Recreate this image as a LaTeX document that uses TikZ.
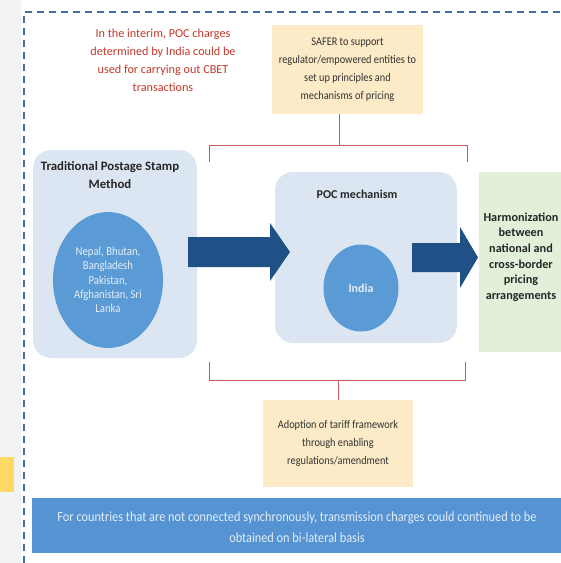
\documentclass[tikz,border=0pt]{standalone}
\usepackage{fontspec}
\setmainfont{Carlito}
\newfontfamily\narrowfont[FakeStretch=0.88]{Carlito}
\usetikzlibrary{shapes.geometric,calc}
\definecolor{frameblue}{HTML}{41719C}
\definecolor{paleblue}{HTML}{DCE6F2}
\definecolor{midblue}{HTML}{5B9BD5}
\definecolor{darkblue}{HTML}{1F5186}
\definecolor{palegreen}{HTML}{E2EFD9}
\definecolor{paleyellow}{HTML}{FCEBC6}
\definecolor{barblue}{HTML}{5593D3}
\definecolor{redtext}{HTML}{C0392B}
\definecolor{bracketred}{HTML}{C55A5A}
\definecolor{sidegray}{HTML}{F2F3F5}
\definecolor{sideyellow}{HTML}{FFD966}
\definecolor{lighttext}{HTML}{E4EEF8}
\begin{document}
\begin{tikzpicture}[x=1pt,y=-1pt,
  panel/.style={draw=none,fill=paleblue,rounded corners=18pt,inner sep=0pt},
  note/.style={draw=none,fill=paleyellow,inner sep=0pt,align=center,font=\narrowfont\fontsize{11.7}{18}\selectfont,text=black!80},
  blob/.style={ellipse,draw=none,fill=midblue,inner sep=0pt},
  blockarrow/.style={fill=darkblue,draw=none},
  title/.style={align=center,font=\bfseries\fontsize{12.8}{18}\selectfont,text=black!85},
  brace/.style={draw=bracketred,line width=0.8pt},
  frame/.style={draw=frameblue,line width=2pt,dash pattern=on 7pt off 5pt}
]
\useasboundingbox (0,0) rectangle (561,563);
% side decorations
\fill[sidegray] (0,0) rectangle (21,563);
\fill[sideyellow] (0,457) rectangle (14,492);
% dashed frame
\coordinate (fbl) at (24,563);
\coordinate (ftl) at (24,12);
\coordinate (ftr) at (561,12);
\draw[frame] (fbl) -- (ftl) -- (ftr);

% red interim text
\node[align=center,text=redtext,font=\fontsize{12.2}{18}\selectfont] (interim) at (163,60)
  {In the interim, POC charges\\determined by India could be\\used for carrying out CBET\\transactions};

% SAFER box
\node[note,minimum width=151pt,minimum height=89pt] (safer) at (347.5,69.5)
  {SAFER to support\\regulator/empowered entities to\\set up principles and\\mechanisms of pricing};

% traditional panel
\node[panel,minimum width=164pt,minimum height=208pt] (trad) at (115,254) {};
\node[title] (tradtitle) at (110,175) {Traditional Postage Stamp\\Method};
\node[blob,minimum width=110pt,minimum height=136pt,align=center,text=lighttext,
  font=\narrowfont\fontsize{12.2}{14.2}\selectfont] (tradc) at (108,280)
  {Nepal, Bhutan,\\Bangladesh\\Pakistan,\\Afghanistan, Sri\\Lanka};

% POC panel
\node[panel,minimum width=182pt,minimum height=171pt] (poc) at (366,257.5) {};
\node[font=\bfseries\fontsize{12}{14}\selectfont,text=black!85] (poctitle) at (357,194) {POC mechanism};
\node[blob,minimum width=75pt,minimum height=87pt,text=lighttext,
  font=\bfseries\fontsize{12}{14}\selectfont] (india) at (361,288) {India};

% harmonization box
\node[draw=none,fill=palegreen,minimum width=96pt,minimum height=180pt,inner sep=0pt] (harm) at (527,262) {};
\node[title,font=\bfseries\fontsize{12.2}{15.6}\selectfont] (harmtext) at (521,257)
  {Harmonization\\between\\national and\\cross-border\\pricing\\arrangements};

% block arrows
\coordinate (atail) at (188,252);
\coordinate (atip) at (290,252);
\fill[blockarrow] ($(atail)+(0,-15)$) -- ($(atip)+(-20,-15)$) -- ($(atip)+(-20,-29)$) -- (atip)
  -- ($(atip)+(-20,29)$) -- ($(atip)+(-20,15)$) -- ($(atail)+(0,15)$) -- cycle;
\coordinate (btail) at (412,257.5);
\coordinate (btip) at (478,257.5);
\fill[blockarrow] ($(btail)+(0,-14.5)$) -- ($(btip)+(-18,-14.5)$) -- ($(btip)+(-18,-30.5)$) -- (btip)
  -- ($(btip)+(-18,30.5)$) -- ($(btip)+(-18,14.5)$) -- ($(btail)+(0,14.5)$) -- cycle;

% top bracket
\coordinate (tbl) at (209,162);
\coordinate (tbll) at (209,145);
\coordinate (tbr) at (467,162);
\coordinate (tbrr) at (467,145);
\coordinate (tstem) at (339,145);
\draw[brace] (tbl) -- (tbll) -- (tbrr) -- (tbr);
\draw[brace] (tstem) -- (tstem |- safer.south);

% adoption box
\node[note,minimum width=150pt,minimum height=87pt] (adopt) at (338,443.5)
  {Adoption of tariff framework\\through enabling\\regulations/amendment};

% bottom bracket
\coordinate (bbl) at (209,362);
\coordinate (bbll) at (209,380);
\coordinate (bbr) at (465,362);
\coordinate (bbrr) at (465,380);
\coordinate (bstem) at (338,380);
\draw[brace] (bbl) -- (bbll) -- (bbrr) -- (bbr);
\draw[brace] (bstem) -- (adopt.north);

% bottom bar
\node[draw=none,fill=barblue,minimum width=529pt,minimum height=55pt,inner sep=0pt] (bar) at (296.5,525.5) {};
\node[align=center,text=lighttext,font=\narrowfont\fontsize{14}{21}\selectfont] (bartext) at (297,527)
  {For countries that are not connected synchronously, transmission charges could continued to be\\obtained on bi-lateral basis};
\end{tikzpicture}
\end{document}
